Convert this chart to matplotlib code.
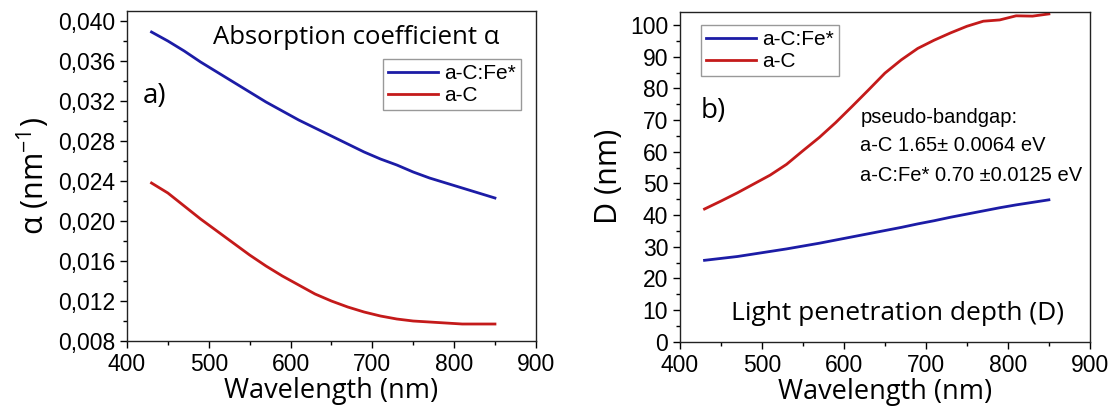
import matplotlib
matplotlib.use("Agg")
import matplotlib.pyplot as plt
from matplotlib.ticker import MultipleLocator, FuncFormatter

plt.rcParams['font.family'] = ['Liberation Sans', 'DejaVu Sans']
plt.rcParams['mathtext.fontset'] = 'custom'
plt.rcParams['mathtext.rm'] = 'Open Sans'
plt.rcParams['mathtext.it'] = 'Open Sans'

# wavelength grid (nm)
wl = [430, 450, 470, 490, 510, 530, 550, 570, 590, 610, 630,
      650, 670, 690, 710, 730, 750, 770, 790, 810, 830, 850]

# absorption coefficient (nm^-1)
alpha_fe = [0.0389, 0.0380, 0.0370, 0.0359, 0.0349, 0.0339, 0.0329, 0.0319,
            0.0310, 0.0301, 0.0293, 0.0285, 0.0277, 0.0269, 0.0262, 0.0256,
            0.0249, 0.0243, 0.0238, 0.0233, 0.0228, 0.0223]
alpha_c = [0.0238, 0.0228, 0.0215, 0.0202, 0.0190, 0.0178, 0.0166, 0.0155,
           0.0145, 0.0136, 0.0127, 0.0120, 0.0114, 0.0109, 0.0105, 0.0102,
           0.0100, 0.0099, 0.0098, 0.0097, 0.0097, 0.0097]

# penetration depth (nm)
depth_fe = [25.7, 26.3, 26.9, 27.7, 28.5, 29.3, 30.2, 31.1, 32.1, 33.1, 34.1,
            35.1, 36.1, 37.2, 38.2, 39.3, 40.3, 41.3, 42.3, 43.2, 44.0, 44.8]
depth_c = [41.9, 44.4, 47.0, 49.8, 52.6, 56.0, 60.3, 64.5, 69.2, 74.3, 79.5,
           84.8, 89.0, 92.6, 95.2, 97.5, 99.6, 101.2, 101.6, 102.9, 102.8, 103.5]

blue = '#1c1ca6'
red = '#c41a1a'
label_font = 'Open Sans'

fig = plt.figure(figsize=(11.11, 4.12), dpi=100)
ax1 = fig.add_axes([0.1143, 0.1723, 0.368, 0.801])
ax2 = fig.add_axes([0.612, 0.1706, 0.369, 0.801])

for ax in (ax1, ax2):
    ax.set_xlim(400, 900)
    ax.xaxis.set_major_locator(MultipleLocator(100))
    ax.xaxis.set_minor_locator(MultipleLocator(50))
    ax.tick_params(which='major', direction='out', length=5, width=1, labelsize=16.5)
    ax.tick_params(which='minor', direction='out', length=3, width=1)
    for s in ax.spines.values():
        s.set_linewidth(1.0)
        s.set_color('#222222')
    ax.set_xlabel('Wavelength (nm)', fontsize=19.5, family=label_font, labelpad=1)

# a) absorption coefficient
ax1.plot(wl, alpha_fe, color=blue, lw=2, label='a-C:Fe*')
ax1.plot(wl, alpha_c, color=red, lw=2, label='a-C')
ax1.set_ylim(0.008, 0.041)
ax1.yaxis.set_major_locator(MultipleLocator(0.004))
ax1.yaxis.set_minor_locator(MultipleLocator(0.002))
ax1.yaxis.set_major_formatter(FuncFormatter(lambda v, p: f'{v:.3f}'.replace('.', ',')))
ax1.set_ylabel(r'α (nm$^{-1}$)', fontsize=22, family=label_font, labelpad=4)
ax1.text(0.21, 0.92, 'Absorption coefficient α', transform=ax1.transAxes,
         fontsize=18.5, family=label_font, va='center')
ax1.text(0.038, 0.742, 'a)', transform=ax1.transAxes, fontsize=20,
         family=label_font, va='center')
ax1.legend(loc='upper left', bbox_to_anchor=(0.626, 0.855), fontsize=15,
           fancybox=False, edgecolor='#999999', framealpha=1, handlelength=2.4,
           handletextpad=0.3, borderpad=0.25, labelspacing=0.15, borderaxespad=0)

# b) penetration depth
ax2.plot(wl, depth_fe, color=blue, lw=2, label='a-C:Fe*')
ax2.plot(wl, depth_c, color=red, lw=2, label='a-C')
ax2.set_ylim(0, 104.2)
ax2.yaxis.set_major_locator(MultipleLocator(10))
ax2.yaxis.set_minor_locator(MultipleLocator(5))
ax2.set_ylabel('D (nm)', fontsize=22, family=label_font, labelpad=4)
ax2.text(0.05, 0.70, 'b)', transform=ax2.transAxes, fontsize=20,
         family=label_font, va='center')
ax2.text(0.44, 0.678, 'pseudo-bandgap:', transform=ax2.transAxes, fontsize=14.5, va='center')
ax2.text(0.44, 0.596, 'a-C 1.65± 0.0064 eV', transform=ax2.transAxes, fontsize=14.5, va='center')
ax2.text(0.44, 0.505, 'a-C:Fe* 0.70 ±0.0125 eV', transform=ax2.transAxes, fontsize=14.5, va='center')
ax2.text(0.124, 0.087, 'Light penetration depth (D)', transform=ax2.transAxes,
         fontsize=19, family=label_font, va='center')
ax2.legend(loc='upper left', bbox_to_anchor=(0.051, 0.96), fontsize=15,
           fancybox=False, edgecolor='#999999', framealpha=1, handlelength=2.4,
           handletextpad=0.3, borderpad=0.25, labelspacing=0.15, borderaxespad=0)

fig.savefig('out.png', dpi=100)
